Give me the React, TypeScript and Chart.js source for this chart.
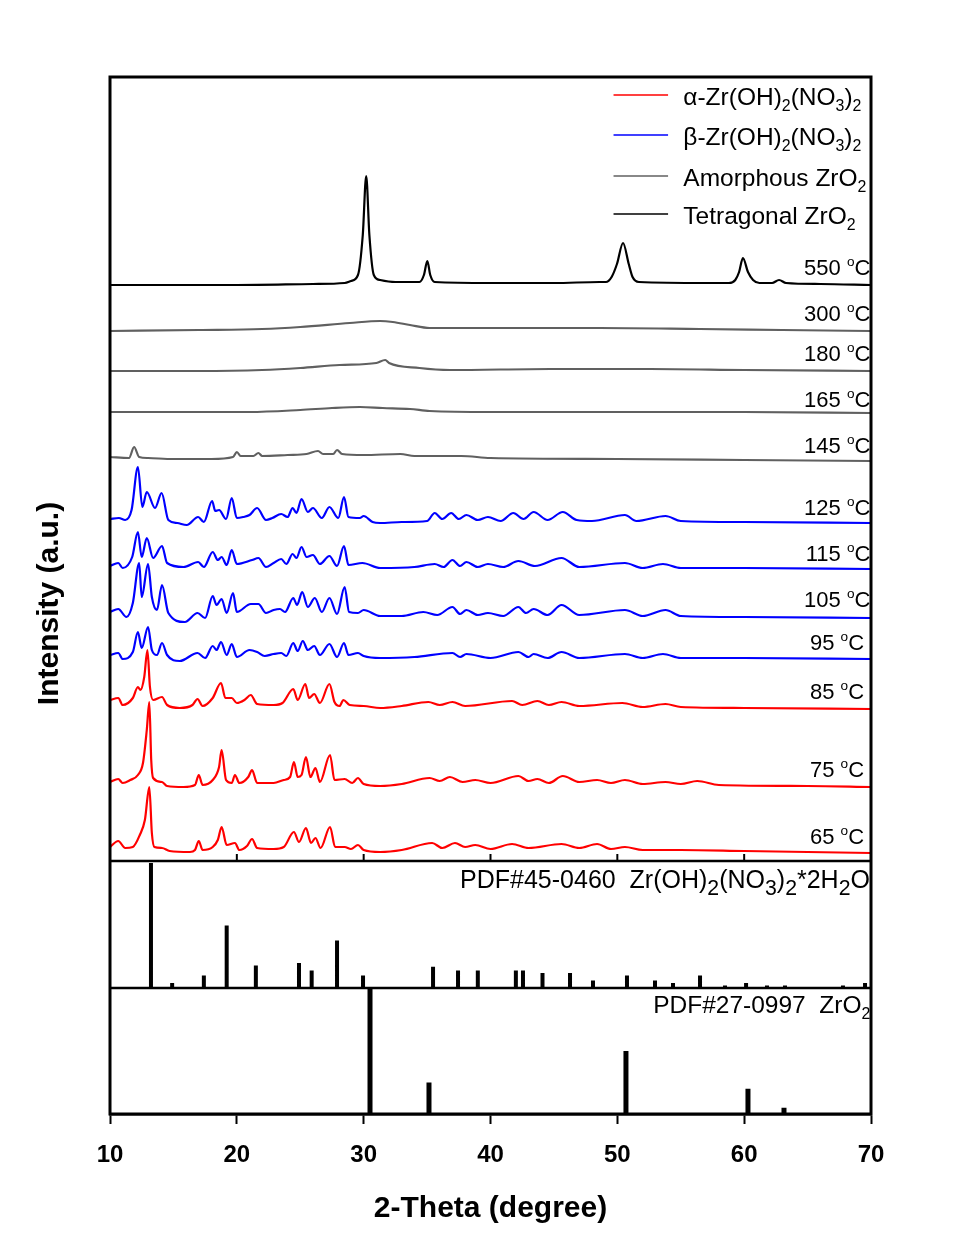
import React, { useEffect, useRef } from "react";
import { Chart, registerables } from "chart.js";

Chart.register(...registerables);

type Pt = [number, number];
type Seg = { t: string; k?: "sub" | "sup" };

// ---------------- axis ----------------
const X_MIN = 10;
const X_MAX = 70;
const X_STEP = 10;
const TOP_INNER_TICKS = [20, 30, 40, 50, 60];
const X_TITLE = "2-Theta (degree)";
const Y_TITLE = "Intensity (a.u.)";

// panel heights in a.u. (top: XRD patterns, middle: PDF#45-0460, bottom: PDF#27-0997)
const TOP_H = 784;
const MID_H = 127;
const BOT_H = 126;

// ---------------- XRD patterns: [2theta, intensity above own baseline] ----------------
const I_65: Pt[] = [[10,3],[10.65,9],[11.2,2],[11.8,3],[12.35,15],[12.75,30],[13.1,63],[13.3,17],[13.5,3],[14.1,2],[14.7,-1],[16.3,-2],[16.7,0],[17.0,9],[17.3,0],[18.1,3],[18.5,10],[18.8,23],[19.2,5],[19.85,7],[20.2,0],[20.8,4],[21.2,11],[21.6,2],[22.9,1],[23.7,3],[24.5,18],[24.9,8],[25.45,22],[25.85,7],[26.2,12],[26.6,2],[27.35,23],[27.75,3],[28.5,3],[29.0,1],[29.55,5],[30.0,0],[31.3,-2],[33,0],[35.4,7],[36.2,2],[37.2,7],[38.0,3],[38.8,5],[40,1],[41.7,6],[43,2],[45.6,6],[47,2],[48.4,6],[49.5,1],[50.6,3],[52,0],[55,0],[60,-1],[65,-2],[70,-3]];
const I_75: Pt[] = [[10,2],[10.65,5],[11.0,1],[11.6,4],[12.2,9],[12.6,21],[12.9,54],[13.1,82],[13.25,24],[13.4,6],[14.1,2],[14.5,-2],[15.8,-3],[16.7,-1],[17.0,9],[17.3,-1],[18.1,4],[18.6,17],[18.8,34],[19.15,4],[19.6,1],[19.85,9],[20.2,1],[20.9,7],[21.2,14],[21.6,1],[22.9,1],[23.7,4],[24.2,7],[24.5,22],[24.8,7],[25.1,9],[25.45,27],[25.8,7],[26.2,16],[26.55,2],[27.35,29],[27.7,4],[28.5,5],[29.1,1],[29.55,6],[30.0,0],[31.3,-2],[33,0],[35.2,6],[36,3],[36.8,7],[37.8,2],[38.8,4],[40,1],[42.2,8],[43,3],[43.7,5],[44.6,1],[45.7,8],[47,2],[48.4,4],[49.5,1],[50.6,4],[52,0],[53.8,2],[55,0],[56.3,3],[58,-1],[65,-2],[70,-3]];
const I_85: Pt[] = [[10,3],[10.65,5],[11.0,-2],[11.8,5],[12.2,16],[12.4,13],[12.7,26],[12.95,53],[13.15,16],[13.4,3],[14.1,6],[14.5,-2],[15.5,-5],[16.5,-2],[16.9,4],[17.3,-3],[18.1,5],[18.75,20],[19.1,5],[19.6,5],[20.0,0],[20.6,3],[21.1,8],[21.6,-1],[22.9,-2],[23.6,0],[24.45,14],[24.8,3],[25.4,19],[25.7,5],[26.1,9],[26.55,0],[27.3,19],[27.7,1],[28.1,-3],[28.4,3],[28.9,-2],[30.0,-3],[31.3,-5],[33,-3],[35.1,1],[36,-2],[37.0,1],[38,-3],[41.7,2],[42.5,-2],[43.7,2],[44.6,-2],[45.6,1],[47,-3],[50.4,0],[52,-4],[53.8,-1],[55,-4],[60,-5],[70,-6]];
const I_95: Pt[] = [[10,1],[10.65,3],[11.0,-3],[11.8,4],[12.2,24],[12.5,8],[13.0,29],[13.3,6],[13.7,1],[14.1,13],[14.5,1],[15.5,-5],[16.9,3],[17.5,-2],[18.1,10],[18.4,6],[18.75,14],[19.2,1],[19.6,12],[20.0,-1],[21.0,6],[21.6,4],[22.2,0],[22.9,2],[23.5,3],[23.9,0],[24.45,13],[24.8,5],[25.2,15],[25.6,6],[26.1,10],[26.55,1],[27.3,12],[27.9,-1],[28.45,13],[28.8,1],[29.55,3],[30.0,0],[31.3,-2],[34,-1],[37.0,3],[37.6,-1],[38.1,2],[40,-2],[42.2,4],[43,-1],[43.4,2],[44.5,-2],[45.6,4],[47,-2],[50.6,2],[52,-2],[53.6,2],[55,-2],[60,-2],[70,-3]];
const I_105: Pt[] = [[10,1],[10.65,4],[11.3,-4],[11.8,10],[12.3,50],[12.5,16],[13.0,49],[13.3,16],[13.7,3],[14.1,28],[14.6,0],[15.9,-9],[16.9,0],[17.5,-5],[18.1,17],[18.4,8],[18.8,14],[19.2,0],[19.7,20],[20.0,1],[21.1,9],[21.7,9],[22.3,0],[22.9,3],[23.4,4],[23.8,1],[24.45,15],[24.75,8],[25.15,21],[25.6,6],[26.15,15],[26.7,1],[27.3,15],[27.9,-1],[28.5,26],[28.85,1],[29.55,0],[30.0,3],[31.3,-3],[33,-3],[34.7,1],[35.8,-2],[37.0,6],[37.6,-1],[38.1,3],[39.0,-2],[39.8,0],[41,-3],[42.2,6],[42.8,0],[43.4,4],[44.5,-2],[45.6,8],[47,-2],[50.6,3],[52,-3],[53.8,3],[55,-3],[60,-4],[70,-5]];
const I_115: Pt[] = [[10,0],[10.65,3],[11.0,-2],[11.75,9],[12.2,34],[12.5,9],[12.9,28],[13.4,8],[14.1,20],[14.5,3],[15.8,-1],[16.95,4],[17.4,-1],[18.1,14],[18.5,6],[18.8,9],[19.2,1],[19.6,16],[20.0,2],[21.2,6],[21.7,8],[22.3,-1],[22.9,3],[23.5,7],[23.9,2],[24.4,12],[24.7,8],[25.1,19],[25.5,9],[26.0,11],[26.55,2],[27.3,10],[27.9,0],[28.45,20],[28.8,1],[29.9,3],[31.3,-2],[34,-1],[35.6,2],[36.3,-1],[37.0,6],[37.6,0],[38.1,4],[39,-1],[39.8,2],[41,-1],[42.2,5],[43.5,0],[45.6,8],[47,-1],[50.6,3],[52,-2],[53.6,2],[55,-2],[60,-2],[70,-3]];
const I_125: Pt[] = [[10,2],[10.7,3],[11.2,1],[11.7,11],[12.2,54],[12.55,14],[12.9,29],[13.55,13],[14.07,28],[14.6,1],[15.3,-2],[16.05,-4],[16.95,4],[17.4,-1],[18.05,20],[18.3,10],[18.6,11],[19.15,2],[19.6,23],[20.0,3],[20.5,4],[21.0,6],[21.6,13],[22.3,1],[22.8,3],[23.5,7],[24.0,4],[24.4,13],[24.7,8],[25.1,22],[25.6,9],[26.0,13],[26.7,3],[27.3,14],[28.0,3],[28.45,24],[28.8,4],[29.7,3],[30.0,5],[30.7,-1],[31.3,-2],[33,-1],[35.0,0],[35.6,8],[36.2,2],[36.9,8],[37.5,2],[38.1,6],[39,1],[39.8,4],[40.8,0],[41.8,8],[42.6,2],[43.4,9],[44.5,1],[45.7,9],[46.8,1],[48,0],[50.6,6],[51.5,0],[53.8,5],[55,0],[60,-1],[70,-2]];
const I_145: Pt[] = [[10,1],[11.5,0],[11.9,11],[12.3,1],[13,0],[15,-1],[18,-1],[19.7,1],[20.0,6],[20.3,2],[21.3,2],[21.7,5],[22.0,2],[24,3],[25.5,4],[26.4,7],[26.8,4],[27.6,4],[27.9,8],[28.3,4],[30,3],[32.9,4],[34,2],[37.7,2],[40,0],[50,-1],[60,-2],[70,-3]];
const I_165: Pt[] = [[10,0],[15,0],[21,0],[25,2],[27.5,4],[29.7,5],[31.5,4],[33.65,3],[35.2,1],[40,0],[50,0],[60,0],[70,-1]];
const I_180: Pt[] = [[10,0],[17,0],[22,1],[25,3],[28.1,6],[31.0,8],[31.7,11],[32.0,8],[34.4,3],[36.8,1],[44.7,2],[52.6,2],[60,1],[70,0]];
const I_300: Pt[] = [[10,0],[17,1],[22,2],[25,4],[28.9,8],[31.3,10],[32.3,9],[33.65,6],[35.2,3],[40.7,3],[48.6,3],[56.5,2],[63,1],[70,0]];
const I_550: Pt[] = [[10,0],[20,0],[26,1],[28.5,2],[29.0,4],[29.55,10],[29.93,50],[30.2,109],[30.45,50],[30.8,10],[31.3,5],[32.5,3],[34.4,3],[34.75,10],[35.02,24],[35.25,10],[35.6,3],[40,2],[45,2],[48.6,3],[49.1,3],[49.55,8],[49.97,21],[50.45,42],[50.9,21],[51.2,8],[51.7,3],[57,2],[58.8,2],[59.3,5],[59.6,13],[59.9,27],[60.3,13],[60.7,5],[61.2,2],[62.2,2],[62.75,5],[63.3,2],[66,1],[70,0]];

const PATTERNS: Pt[][] = [I_65, I_75, I_85, I_95, I_105, I_115, I_125, I_145, I_165, I_180, I_300, I_550];
const TEMPS = ["65", "75", "85", "95", "105", "115", "125", "145", "165", "180", "300", "550"];
const PHASE = ["alpha", "alpha", "alpha", "beta", "beta", "beta", "beta", "amorphous", "amorphous", "amorphous", "amorphous", "tetragonal"];
const OFFSETS = [11, 77, 158, 205, 248, 295, 340, 403, 449, 490, 530, 576];
const LABEL_Y = [17, 84, 162, 211, 254, 300, 346, 408, 454, 500, 540, 586];
const LABEL_X = [69.45, 69.45, 69.45, 69.45, 69.95, 69.95, 69.95, 69.95, 69.95, 69.95, 69.95, 69.95];

// ---------------- reference cards: [2theta, relative intensity %] ----------------
const PDF_45_0460: Pt[] = [[13.23,100],[14.9,4],[17.4,10],[19.2,50],[21.5,18],[24.9,20],[25.9,14],[27.9,38],[29.95,10],[35.47,17],[37.44,14],[39.0,14],[42.0,14],[42.56,14],[44.1,12],[46.27,12],[48.08,6],[50.76,10],[52.97,6],[54.39,4],[56.52,10],[58.49,2],[60.15,4],[61.8,2],[63.22,2],[67.79,2],[69.53,4]];
const PDF_27_0997: Pt[] = [[30.5,100],[35.15,25],[50.68,50],[60.3,20],[63.14,5]];

const PHASE_COLORS: Record<string, string> = {
  alpha: "#ff0000",
  beta: "#0000ff",
  amorphous: "#606060",
  tetragonal: "#000000",
};

const LEGEND_ORDER = ["alpha", "beta", "amorphous", "tetragonal"];
const LEGEND_TEXT: Seg[][] = [
  [{ t: "\u03b1-Zr(OH)" }, { t: "2", k: "sub" }, { t: "(NO" }, { t: "3", k: "sub" }, { t: ")" }, { t: "2", k: "sub" }],
  [{ t: "\u03b2-Zr(OH)" }, { t: "2", k: "sub" }, { t: "(NO" }, { t: "3", k: "sub" }, { t: ")" }, { t: "2", k: "sub" }],
  [{ t: "Amorphous ZrO" }, { t: "2", k: "sub" }],
  [{ t: "Tetragonal ZrO" }, { t: "2", k: "sub" }],
];
const MID_LABEL: Seg[] = [
  { t: "PDF#45-0460  Zr(OH)" }, { t: "2", k: "sub" }, { t: "(NO" }, { t: "3", k: "sub" }, { t: ")" },
  { t: "2", k: "sub" }, { t: "*2H" }, { t: "2", k: "sub" }, { t: "O" },
];
const BOT_LABEL: Seg[] = [{ t: "PDF#27-0997  ZrO" }, { t: "2", k: "sub" }];

const FONT = '"Liberation Sans", Arial, Helvetica, sans-serif';

function drawRich(
  ctx: CanvasRenderingContext2D,
  segs: Seg[],
  x: number,
  y: number,
  size: number,
  align: "left" | "right",
  subScale: number,
  subDy: number,
  supScale = 0.62,
  supDy = -9
) {
  const fs = (s: Seg) => (s.k === "sub" ? size * subScale : s.k === "sup" ? size * supScale : size);
  let w = 0;
  for (const s of segs) {
    ctx.font = `${fs(s)}px ${FONT}`;
    w += ctx.measureText(s.t).width;
  }
  let cx = align === "right" ? x - w : x;
  ctx.textAlign = "left";
  ctx.textBaseline = "alphabetic";
  for (const s of segs) {
    ctx.font = `${fs(s)}px ${FONT}`;
    const dy = s.k === "sub" ? subDy : s.k === "sup" ? supDy : 0;
    ctx.fillText(s.t, cx, y + dy);
    cx += ctx.measureText(s.t).width;
  }
}

function stickData(list: Pt[], base: number, full: number) {
  const out: { x: number; y: number | null }[] = [];
  for (const [t, p] of list) {
    out.push({ x: t, y: base }, { x: t, y: base + (p / 100) * full }, { x: t, y: null });
  }
  return out;
}

const overlayPlugin = {
  id: "xrdOverlay",
  afterDraw(chart: any) {
    const { ctx, chartArea: a, scales } = chart;
    const xs = scales.x;
    const ys = scales.y;
    ctx.save();
    ctx.fillStyle = "#000";
    ctx.strokeStyle = "#000";

    // panel separators
    ctx.lineWidth = 2.5;
    for (const v of [0, -MID_H]) {
      const py = ys.getPixelForValue(v);
      ctx.beginPath();
      ctx.moveTo(a.left, py);
      ctx.lineTo(a.right, py);
      ctx.stroke();
    }
    // inner ticks on the bottom edge of the pattern panel
    ctx.lineWidth = 2;
    const py0 = ys.getPixelForValue(0);
    for (const t of TOP_INNER_TICKS) {
      const px = xs.getPixelForValue(t);
      ctx.beginPath();
      ctx.moveTo(px, py0);
      ctx.lineTo(px, py0 - 7);
      ctx.stroke();
    }
    // frame
    ctx.lineWidth = 3;
    ctx.strokeRect(a.left, a.top, a.right - a.left, a.bottom - a.top);

    // temperature labels
    for (let i = 0; i < TEMPS.length; i++) {
      drawRich(
        ctx,
        [{ t: TEMPS[i] + " " }, { t: "o", k: "sup" }, { t: "C" }],
        xs.getPixelForValue(LABEL_X[i]),
        ys.getPixelForValue(LABEL_Y[i]),
        22,
        "right",
        0.65,
        6,
        0.62,
        -9
      );
    }

    // legend
    const legX0 = xs.getPixelForValue(49.7);
    const legX1 = xs.getPixelForValue(54.0);
    const legTx = xs.getPixelForValue(55.2);
    const legY = [766, 726, 685, 647];
    LEGEND_ORDER.forEach((ph, i) => {
      const py = ys.getPixelForValue(legY[i]);
      ctx.strokeStyle = PHASE_COLORS[ph];
      ctx.lineWidth = 1.5;
      ctx.beginPath();
      ctx.moveTo(legX0, py);
      ctx.lineTo(legX1, py);
      ctx.stroke();
      ctx.fillStyle = "#000";
      drawRich(ctx, LEGEND_TEXT[i], legTx, py + 10, 24.5, "left", 0.65, 6);
    });

    // reference card labels
    drawRich(ctx, MID_LABEL, xs.getPixelForValue(37.6), ys.getPixelForValue(-27), 25, "left", 0.85, 7);
    drawRich(ctx, BOT_LABEL, xs.getPixelForValue(69.95), ys.getPixelForValue(-152), 24.5, "right", 0.65, 6);

    // y-axis title
    ctx.save();
    ctx.translate(a.left - 60, (a.top + a.bottom) / 2 + 8);
    ctx.rotate(-Math.PI / 2);
    ctx.font = `bold 30px ${FONT}`;
    ctx.textAlign = "center";
    ctx.textBaseline = "middle";
    ctx.fillStyle = "#000";
    ctx.fillText(Y_TITLE, 0, 0);
    ctx.restore();

    ctx.restore();
  },
};

export default function App() {
  const ref = useRef<HTMLCanvasElement | null>(null);

  useEffect(() => {
    if (!ref.current) return;
    const datasets: any[] = PATTERNS.map((pts, i) => ({
      label: TEMPS[i] + " \u00b0C",
      data: pts.map(([t, v]) => ({ x: t, y: v + OFFSETS[i] })),
      borderColor: PHASE_COLORS[PHASE[i]],
      borderWidth: 2.2,
      pointRadius: 0,
      cubicInterpolationMode: "monotone",
      fill: false,
    }));
    datasets.push({
      label: "PDF#45-0460",
      data: stickData(PDF_45_0460, -MID_H, MID_H - 2),
      borderColor: "#000",
      borderWidth: 4,
      borderCapStyle: "butt",
      pointRadius: 0,
      spanGaps: false,
      fill: false,
    });
    datasets.push({
      label: "PDF#27-0997",
      data: stickData(PDF_27_0997, -MID_H - BOT_H, BOT_H),
      borderColor: "#000",
      borderWidth: 5,
      borderCapStyle: "butt",
      pointRadius: 0,
      spanGaps: false,
      fill: false,
    });

    const chart = new Chart(ref.current, {
      type: "line",
      data: { datasets },
      options: {
        animation: false,
        responsive: false,
        devicePixelRatio: 1,
        layout: { padding: { left: 110, right: 104, top: 77, bottom: 0 } },
        plugins: { legend: { display: false }, tooltip: { enabled: false } },
        scales: {
          x: {
            type: "linear",
            min: X_MIN,
            max: X_MAX,
            ticks: {
              stepSize: X_STEP,
              color: "#000",
              padding: 17,
              font: { family: FONT, size: 24, weight: "bold" },
            },
            grid: {
              display: true,
              drawOnChartArea: false,
              drawTicks: true,
              tickLength: 10,
              tickWidth: 2,
              tickColor: "#000",
            },
            border: { display: true, color: "#000", width: 2.5 },
            title: {
              display: true,
              text: X_TITLE,
              color: "#000",
              font: { family: FONT, size: 30, weight: "bold" },
              padding: { top: 0, bottom: 8 },
            },
            afterFit: (s: any) => {
              s.height = 121;
            },
          },
          y: {
            type: "linear",
            display: false,
            min: -MID_H - BOT_H,
            max: TOP_H,
          },
        },
      },
      plugins: [overlayPlugin],
    } as any);
    return () => chart.destroy();
  }, []);

  return (
    <div style={{ position: "absolute", left: 0, top: 0, width: 975, height: 1235, background: "#fff" }}>
      <canvas ref={ref} width={975} height={1235} style={{ width: 975, height: 1235, display: "block" }} />
    </div>
  );
}
